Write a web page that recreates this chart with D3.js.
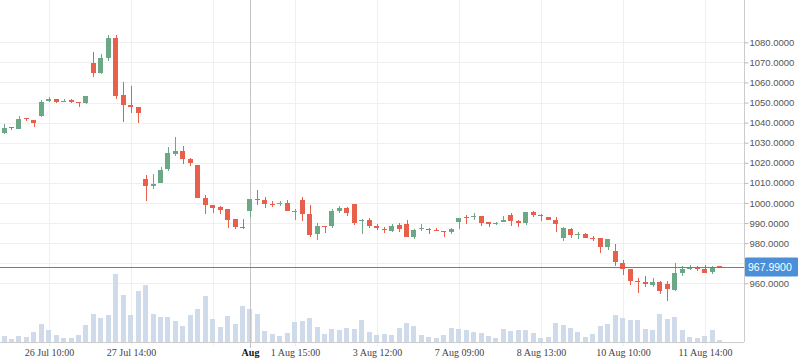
<!DOCTYPE html>
<html>
<head>
<meta charset="utf-8">
<script src="https://cdn.jsdelivr.net/npm/d3@7"></script>
<style>
  body { margin: 0; background: #fff; }
  svg { display: block; }
</style>
</head>
<body>
<div id="chart"></div>
<script>
// OHLC candles, one per bar
var opens = [1034.6,1037.8,1037,1042.2,1041.5,1043.2,1050.7,1051.7,1050.3,1051.2,
  1050.2,1049.7,1069.5,1064.7,1072,1082,1054,1049,1048,1012,
  1008.5,1010,1017,1024.5,1026,1022,1019,1002.5,999,998,
  997,992,988,996,1002,1001.5,999.7,999.7,1000,995.8,
  1001.5,994.5,984.5,988.5,988.7,996,997.5,999.5,991,991.5,
  988.7,987,986.2,989,989.5,983.2,987.5,987,986.5,986.1,
  985.3,990.3,992.8,992.8,993.7,990.5,989.3,990.5,994.2,991.2,
  990,995.5,993.8,992.8,991.3,982.8,987.2,984.5,984.7,982.4,
  982.7,978.2,976,970.3,967,961,960.8,959.2,960.5,959.7,
  956.5,965.2,967.2,967.4,967,965.5,968.4];
var closes = [1037.5,1037.3,1042,1041.8,1040,1050.5,1051.7,1050.3,1051,1050.3,
  1049.8,1053.5,1064.7,1072,1082,1053.5,1049,1048,1045,1008.5,
  1009.5,1016.5,1025,1026,1022,1020,1002.5,999,997.5,996.5,
  991.5,988,987.8,1002,1001.8,999.5,999.5,1000,996,996,
  994.7,984,988.5,988.3,996,997.5,995.2,990,991.3,988.7,
  987.3,986.8,988.7,986.8,983.2,986.3,987.7,986.8,986.3,985.9,
  986.8,992.7,992.6,993.7,990.2,989.7,990,991.5,990.8,990.2,
  995.3,993.8,993.6,991.7,989.7,987.7,984.2,984.7,982.7,982.2,
  978.2,982,970.7,967.3,961.2,960.8,959.7,960.5,956.2,957.2,
  965,967,967.4,967.2,965.2,967.4,967.99];
var highs = [1039.5,1038,1043.5,1042.5,1041.5,1051.5,1053,1052,1052,1051.8,
  1050.3,1053.5,1075,1074,1083.5,1083.5,1060,1058,1048,1014,
  1014.5,1018,1028,1033,1028.5,1022.5,1019,1004,999,998.5,
  997,992,992,1002,1006.5,1003,1001,1001,1001.3,997,
  1003,999,990,988.5,997,998.5,998.2,999.5,992,992.3,
  989.5,988.2,989.3,989.8,991.5,987,989.5,987.3,987.3,986.2,
  987.7,992.7,993.8,994.8,993.7,990.5,990.5,993.5,994.8,991.5,
  995.3,996,994.5,993.2,992.8,988.2,987.7,985.7,985.2,983.5,
  982.7,982,979.5,971.5,967,962.5,963.5,962.8,961.3,961.3,
  970.2,968.5,969.2,968.8,969.2,968.7,968.4];
var lows = [1034.3,1036.2,1037,1040.7,1037.7,1043,1050.5,1049.7,1050.2,1049.7,
  1047.8,1049.2,1062.7,1064.2,1070.5,1052,1040.5,1045,1040,1001,
  1007,1010,1016,1023.5,1019.5,1018.5,1002.5,994.5,995,994.5,
  987.5,987,987,993,999,997.5,998,998.5,996,991.5,
  991,983.2,981.5,985,987.7,995.2,993.7,989.2,984.5,987.3,
  986.5,985.2,985.3,985.3,983.2,982,985.8,984.7,985.8,983.2,
  984.3,987.2,989.5,991.5,988.7,987.8,988.8,990.3,988.5,988.2,
  989.2,993.2,991.2,991.5,985.5,981.2,982.7,982.2,982.7,981.2,
  975.2,976.5,968.5,964.3,959.2,955.2,958.2,958.2,954.8,951.2,
  956.2,963.5,966.5,966.2,965.2,964.5,967.8];
var volumes = [6,3,6,5,10,18,12,7,4,4,
  7,17,28,24,27,68,47,27,51,57,
  28,25,25,21,16,27,33,46,23,15,
  26,18,36,33,28,11,8,6,9,20,
  21,24,15,8,13,12,14,13,22,10,
  7,8,7,14,19,16,7,5,4,7,
  14,13,12,10,9,6,4,13,11,12,
  12,9,4,5,19,17,14,10,5,8,
  16,18,27,24,22,22,13,12,28,23,
  25,12,5,4,6,12,2];

var gridIdx = [6, 17, 28, 39, 50, 61, 72, 83, 94];
var tickIdx = [6, 17, 33, 39, 50, 61, 72, 83, 94];
var tickLabels = ['26 Jul 10:00', '27 Jul 14:00', 'Aug', '1 Aug 15:00', '3 Aug 12:00',
  '7 Aug 09:00', '8 Aug 13:00', '10 Aug 10:00', '11 Aug 14:00'];
var priceTicks = [960, 970, 980, 990, 1000, 1010, 1020, 1030, 1040, 1050, 1060, 1070, 1080];
var lastPrice = 967.99;
var monthIdx = 33;

var width = 798, height = 363;
var axisX = 744, baseY = 342;
var upColor = '#6aa886', downColor = '#e8604c';

var x = d3.scaleLinear().domain([0, 96]).range([4, 719.6]);
var y = d3.scaleLinear().domain([960, 1080]).range([283.3, 42.3]);
var yVol = d3.scaleLinear().domain([0, 70]).range([baseY, baseY - 70]);

var svg = d3.select('#chart').append('svg')
    .attr('width', width)
    .attr('height', height);

// grid
svg.append('g').selectAll('line')
    .data(priceTicks)
    .enter().append('line')
    .attr('x1', 0).attr('x2', axisX)
    .attr('y1', function(d){ return Math.round(y(d)) + 0.5; })
    .attr('y2', function(d){ return Math.round(y(d)) + 0.5; })
    .style('stroke', '#efefef');

svg.append('g').selectAll('line')
    .data(gridIdx)
    .enter().append('line')
    .attr('x1', function(d){ return Math.round(x(d)) + 0.5; })
    .attr('x2', function(d){ return Math.round(x(d)) + 0.5; })
    .attr('y1', 0).attr('y2', baseY + 4)
    .style('stroke', '#efefef');

// volume bars
svg.append('g').selectAll('rect')
    .data(volumes)
    .enter().append('rect')
    .attr('x', function(d, i){ return Math.round(x(i) - 2.5); })
    .attr('width', 5)
    .attr('y', function(d){ return yVol(d); })
    .attr('height', function(d){ return baseY - yVol(d); })
    .style('fill', '#cfdbeb');

// month line
svg.append('line')
    .attr('x1', Math.round(x(monthIdx)) + 0.5).attr('x2', Math.round(x(monthIdx)) + 0.5)
    .attr('y1', 0).attr('y2', baseY + 6)
    .style('stroke', '#c4c4c4');

// candles
var candles = svg.append('g').attr('shape-rendering', 'crispEdges')
    .selectAll('g')
    .data(opens)
    .enter().append('g');

candles.append('line')
    .attr('x1', function(d, i){ return Math.round(x(i)) + 0.5; })
    .attr('x2', function(d, i){ return Math.round(x(i)) + 0.5; })
    .attr('y1', function(d, i){ return y(highs[i]); })
    .attr('y2', function(d, i){ return y(lows[i]); })
    .style('stroke', function(d, i){ return closes[i] >= d ? upColor : downColor; });

candles.append('rect')
    .attr('x', function(d, i){ return Math.round(x(i) - 2.5); })
    .attr('width', 5)
    .attr('y', function(d, i){ return y(Math.max(d, closes[i])); })
    .attr('height', function(d, i){ return Math.max(1, Math.abs(y(d) - y(closes[i]))); })
    .style('fill', function(d, i){ return closes[i] >= d ? upColor : downColor; });

// last price line
svg.append('line')
    .attr('x1', 0).attr('x2', axisX)
    .attr('y1', Math.round(y(lastPrice)) + 0.5)
    .attr('y2', Math.round(y(lastPrice)) + 0.5)
    .style('stroke', '#5581c2');

// axes lines
svg.append('line')
    .attr('x1', axisX + 0.5).attr('x2', axisX + 0.5)
    .attr('y1', 0).attr('y2', baseY)
    .style('stroke', '#cccccc');
svg.append('line')
    .attr('x1', 0).attr('x2', axisX)
    .attr('y1', baseY + 0.5).attr('y2', baseY + 0.5)
    .style('stroke', '#cccccc');

// price axis
var yAxis = d3.axisRight(y)
    .tickValues(priceTicks.filter(function(d){ return d !== 970; }))
    .tickSize(4)
    .tickPadding(1)
    .tickFormat(d3.format('.4f'));

var gy = svg.append('g')
    .attr('transform', 'translate(' + (axisX + 0.5) + ',0)')
    .call(yAxis);
gy.select('.domain').remove();
gy.selectAll('line').style('stroke', '#bbbbbb');
gy.selectAll('text')
    .style('font-family', '"Liberation Sans", Arial, sans-serif')
    .style('font-size', '9.5px')
    .style('fill', '#555');

// time axis
svg.append('g').selectAll('text')
    .data(tickIdx)
    .enter().append('text')
    .attr('x', function(d){ return Math.round(x(d)) + 0.5; })
    .attr('y', 356)
    .attr('text-anchor', 'middle')
    .style('font-family', '"Liberation Serif", "Times New Roman", serif')
    .style('font-size', '10px')
    .style('font-weight', function(d){ return d === monthIdx ? 'bold' : 'normal'; })
    .style('fill', function(d){ return d === monthIdx ? '#111' : '#444'; })
    .text(function(d, i){ return tickLabels[i]; });

// last price label
var lp = Math.round(y(lastPrice));
svg.append('rect')
    .attr('x', axisX + 1).attr('y', lp - 9.5)
    .attr('width', width - axisX - 1).attr('height', 19)
    .attr('rx', 1)
    .style('fill', '#4a8fd8');
svg.append('text')
    .attr('x', axisX + 4).attr('y', lp + 0.5)
    .attr('dy', '0.35em')
    .style('font-family', '"Liberation Sans", Arial, sans-serif')
    .style('font-size', '10.5px')
    .style('fill', '#fff')
    .text(d3.format('.4f')(lastPrice));
</script>
</body>
</html>
